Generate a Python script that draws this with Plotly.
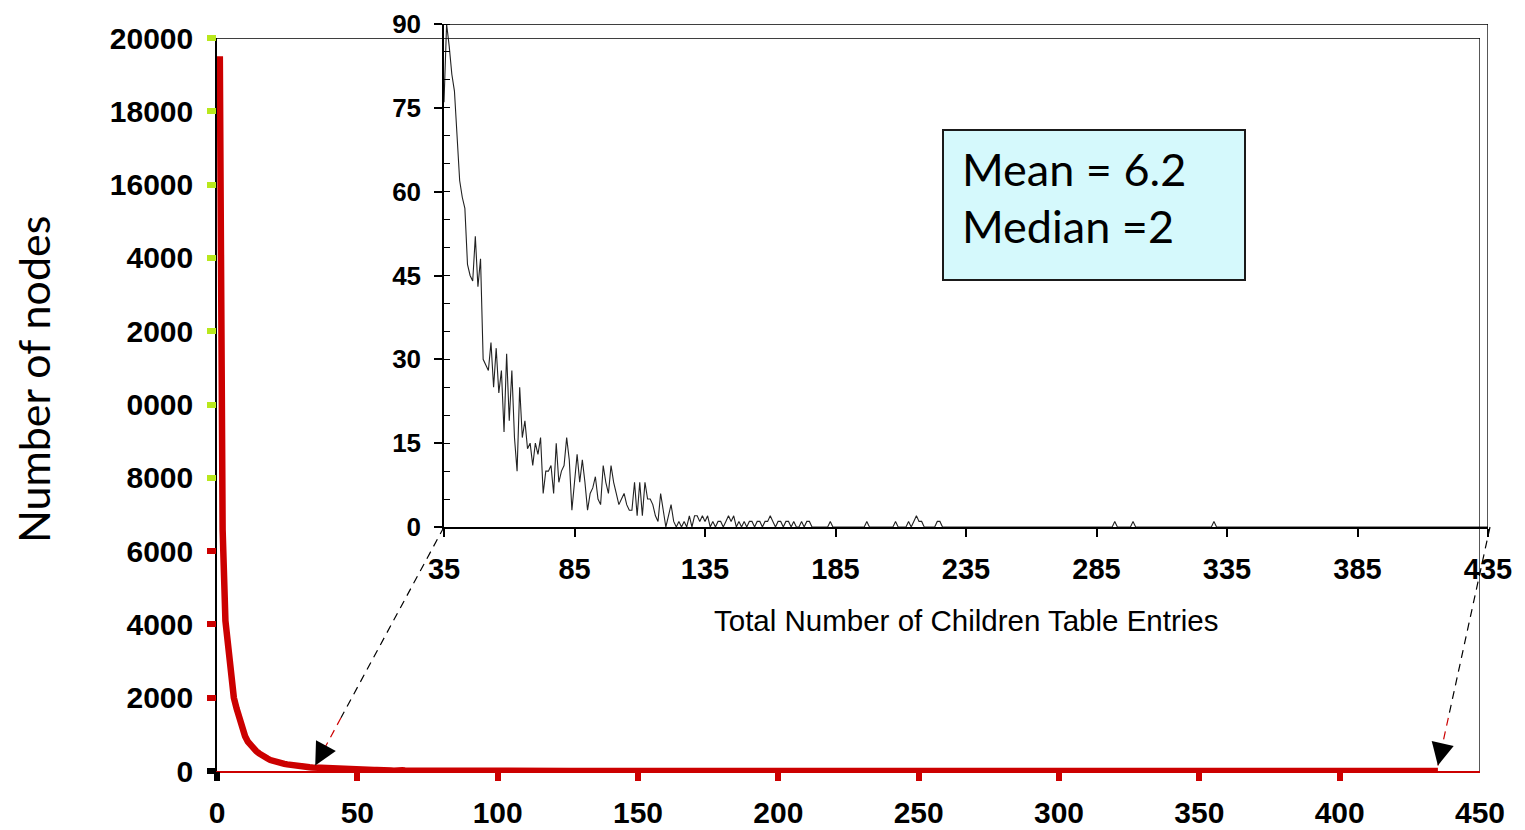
import plotly.graph_objects as go

# ---------------- data ----------------
# main series: number of nodes vs total number of children table entries
main_head_x = list(range(1, 35))
main_head_y = [19500, 6600, 4100, 3300, 2600, 2000, 1700, 1400, 1150, 950,
               800, 700, 600, 540, 480, 420, 380, 340, 300, 270,
               250, 230, 210, 195, 180, 165, 150, 140, 135, 125,
               118, 110, 104, 98]

# zoomed-in tail (x = 35 .. 176)
tail_start = 35
tail_dense = [76, 90, 86, 81, 78, 70, 62, 59, 57, 47,
              45, 44, 52, 43, 48, 30, 29, 28, 33, 25,
              32, 24, 28, 17, 31, 19, 28, 16, 10, 25,
              16, 19, 14, 15, 11, 15, 13, 16, 6, 10,
              10, 11, 6, 15, 8, 10, 11, 16, 12, 3,
              8, 13, 8, 12, 8, 3, 6, 7, 9, 5,
              4, 11, 8, 6, 11, 8, 6, 4, 5, 6,
              4, 3, 3, 8, 2, 8, 2, 8, 5, 5,
              4, 2, 1, 6, 3, 0, 2, 4, 1, 0,
              1, 0, 1, 0, 2, 0, 2, 2, 1, 2,
              1, 2, 0, 1, 0, 1, 1, 0, 1, 2,
              1, 2, 0, 1, 0, 1, 0, 1, 1, 0,
              1, 1, 0, 1, 1, 2, 1, 0, 1, 1,
              0, 1, 1, 0, 1, 0, 0, 1, 0, 1,
              1, 0]
tail_end = 435
# isolated non-zero counts further out (all other values are 0)
tail_sparse = {183: 1, 197: 1, 208: 1, 213: 1, 215: 1, 216: 2, 217: 1,
               218: 1, 224: 1, 225: 1, 292: 1, 299: 1, 330: 1}

tail_x = list(range(tail_start, tail_end + 1))
tail_y = []
for i, xv in enumerate(tail_x):
    if i < len(tail_dense):
        tail_y.append(tail_dense[i])
    else:
        tail_y.append(tail_sparse.get(xv, 0))

all_x = main_head_x + tail_x
all_y = main_head_y + tail_y

main_xticks = [0, 50, 100, 150, 200, 250, 300, 350, 400, 450]
main_yticks = [0, 2000, 4000, 6000, 8000, 10000, 12000, 14000, 16000, 18000, 20000]
main_ylabels = ["0", "2000", "4000", "6000", "8000", "0000", "2000", "4000",
                "16000", "18000", "20000"]
green_ticks = [8000, 10000, 12000, 14000, 16000, 18000, 20000]
red_ticks = [2000, 4000, 6000]
red_xticks = [50, 100, 150, 200, 250, 300, 350, 400]

inset_xticks = [35, 85, 135, 185, 235, 285, 335, 385, 435]
inset_yticks = [0, 15, 30, 45, 60, 75, 90]

# ---------------- layout geometry ----------------
# the page body has an 8px margin: the figure starts at (8, 8)
OFF = 8
W, H = 1525 - OFF, 830 - OFF
L, T = 217 - OFF, 21 - OFF
PW, PH = 1273, 750
R = W - L - PW
B = H - T - PH


def fx(px):  # page pixel -> paper x
    return (px - OFF - L) / PW


def fy(py):  # page pixel -> paper y
    return (T + PH - (py - OFF)) / PH


main_xdom = [0, fx(1480)]
main_ydom = [0, fy(38)]
ins_xdom = [fx(444), fx(1488)]
ins_ydom = [fy(527), fy(24)]

RED = "#CC0000"
GREEN = "#B9E81C"
LAB = "Liberation Sans"

fig = go.Figure()
fig.add_trace(go.Scatter(x=all_x, y=all_y, mode="lines",
                         line=dict(color=RED, width=6.5),
                         xaxis="x", yaxis="y", showlegend=False,
                         hoverinfo="skip"))
fig.add_trace(go.Scatter(x=tail_x, y=tail_y, mode="lines",
                         line=dict(color="#222222", width=1.1),
                         xaxis="x2", yaxis="y2", showlegend=False,
                         hoverinfo="skip"))
# empty traces so that the tick-only overlay axes get drawn
for xa, ya in [("x3", "y"), ("x4", "y"), ("x", "y3"), ("x", "y4"), ("x", "y5")]:
    fig.add_trace(go.Scatter(x=[], y=[], mode="lines", xaxis=xa, yaxis=ya,
                             showlegend=False, hoverinfo="skip"))

bold30 = dict(family=LAB, size=30, color="black", weight=700)
common = dict(showgrid=False, zeroline=False, automargin=False,
              ticklabeloverflow="allow")


def tick_axis(vals, color, rng, **kw):
    d = dict(range=rng, tickmode="array", tickvals=vals, ticks="outside",
             ticklen=9, tickwidth=5.5, tickcolor=color, showticklabels=False,
             showline=False, **common)
    d.update(kw)
    return d


layout = dict(
    width=W, height=H,
    margin=dict(l=L, r=R, t=T, b=B, pad=0, autoexpand=False),
    paper_bgcolor="white", plot_bgcolor="rgba(0,0,0,0)",
    showlegend=False,
    xaxis=dict(domain=main_xdom, range=[0, 450], anchor="y",
               tickmode="array", tickvals=main_xticks,
               ticktext=[str(v) for v in main_xticks],
               ticks="", showline=True, linecolor=RED, linewidth=1.5,
               tickfont=bold30, ticklabelstandoff=14, **common),
    yaxis=dict(domain=main_ydom, range=[0, 20000], anchor="x",
               tickmode="array", tickvals=main_yticks, ticktext=main_ylabels,
               ticks="", showline=True, linecolor="black", linewidth=1.5,
               tickfont=bold30, ticklabelstandoff=16, **common),
    xaxis3=tick_axis(red_xticks, RED, [0, 450], overlaying="x", anchor="y"),
    xaxis4=tick_axis([0], "black", [0, 450], overlaying="x", anchor="y"),
    yaxis3=tick_axis(green_ticks, GREEN, [0, 20000], overlaying="y", anchor="x", side="left"),
    yaxis4=tick_axis(red_ticks, RED, [0, 20000], overlaying="y", anchor="x", side="left"),
    yaxis5=tick_axis([0], "black", [0, 20000], overlaying="y", anchor="x", side="left"),
    xaxis2=dict(domain=ins_xdom, anchor="y2", range=[35, 435],
                tickmode="array", tickvals=inset_xticks,
                ticktext=[str(v) for v in inset_xticks],
                ticks="outside", ticklen=8, tickwidth=1.5, tickcolor="black",
                showline=True, linecolor="black", linewidth=1.5,
                tickfont=dict(family=LAB, size=29, color="black", weight=700),
                ticklabelstandoff=7, **common),
    yaxis2=dict(domain=ins_ydom, anchor="x2", range=[0, 90],
                tickmode="array", tickvals=inset_yticks,
                ticktext=[str(v) for v in inset_yticks],
                ticks="outside", ticklen=8, tickwidth=1.5, tickcolor="black",
                minor=dict(ticks="inside", tick0=0, dtick=5, ticklen=6,
                           tickwidth=1, tickcolor="black"),
                showline=True, linecolor="black", linewidth=1.5,
                tickfont=dict(family=LAB, size=26, color="black", weight=700),
                ticklabelstandoff=8, **common),
)
fig.update_layout(**layout)

shapes = []
# main plot frame (top and right)
shapes.append(dict(type="path", xref="x", yref="y",
                   path=f"M 0,{main_yticks[-1]} L {main_xticks[-1]},{main_yticks[-1]} L {main_xticks[-1]},0",
                   line=dict(color="black", width=1.3)))
# inset frame (top and right)
shapes.append(dict(type="path", xref="x2", yref="y2",
                   path=f"M {inset_xticks[0]},{inset_yticks[-1]} L {inset_xticks[-1]},{inset_yticks[-1]} L {inset_xticks[-1]},0",
                   line=dict(color="black", width=1.3)))


def main_to_paper(xv, yv):
    return (xv / 450 * main_xdom[1], yv / 20000 * main_ydom[1])


def paper_to_px(px, py):
    return (L + px * PW, T + PH - py * PH)


ann = []
head_y = 150
arrow_defs = [((ins_xdom[0], ins_ydom[0]), (tail_start, head_y)),
              ((fx(1490), ins_ydom[0]), (tail_end, head_y))]
for (tpx, tpy), (hx, hy) in arrow_defs:
    hpx, hpy = main_to_paper(hx, hy)
    split = 0.8
    mx = tpx + (hpx - tpx) * split
    my = tpy + (hpy - tpy) * split
    shapes.append(dict(type="line", xref="paper", yref="paper",
                       x0=tpx, y0=tpy, x1=mx, y1=my,
                       line=dict(color="black", width=1.2, dash="8px,6px")))
    shapes.append(dict(type="line", xref="paper", yref="paper",
                       x0=mx, y0=my, x1=hpx, y1=hpy,
                       line=dict(color=RED, width=1.2, dash="8px,6px")))
    # arrow head
    tX, tY = paper_to_px(tpx, tpy)
    hX, hY = paper_to_px(hpx, hpy)
    dx, dy = tX - hX, tY - hY
    n = (dx * dx + dy * dy) ** 0.5
    ann.append(dict(x=hx, y=hy, xref="x", yref="y", axref="pixel", ayref="pixel",
                    ax=dx / n * 14, ay=dy / n * 14, text="", showarrow=True,
                    arrowhead=2, arrowsize=3, arrowwidth=1.5,
                    arrowcolor="black", standoff=0))

# stats box
shapes.append(dict(type="rect", xref="paper", yref="paper",
                   x0=fx(943), x1=fx(1245), y0=fy(280), y1=fy(130),
                   fillcolor="#D5F9FC", line=dict(color="#1a1a1a", width=2)))
BOXFONT = dict(family="Lato", size=45, color="black")
ann.append(dict(x=fx(960), y=fy(169), xref="paper", yref="paper",
                xanchor="left", yanchor="middle", text="Mean = 6.2",
                showarrow=False, font=BOXFONT))
ann.append(dict(x=fx(960), y=fy(226), xref="paper", yref="paper",
                xanchor="left", yanchor="middle", text="Median =2",
                showarrow=False, font=BOXFONT))

# axis titles
ann.append(dict(x=fx(33), y=fy(380), xref="paper", yref="paper",
                xanchor="center", yanchor="middle", text="Number of nodes",
                textangle=-90, showarrow=False,
                font=dict(family="Lato", size=43, color="black")))
ann.append(dict(x=fx(966), y=fy(620), xref="paper", yref="paper",
                xanchor="center", yanchor="middle",
                text="Total Number of Children Table Entries",
                showarrow=False,
                font=dict(family=LAB, size=29.5, color="black")))

fig.update_layout(shapes=shapes, annotations=ann)
fig.write_html("out.html")
